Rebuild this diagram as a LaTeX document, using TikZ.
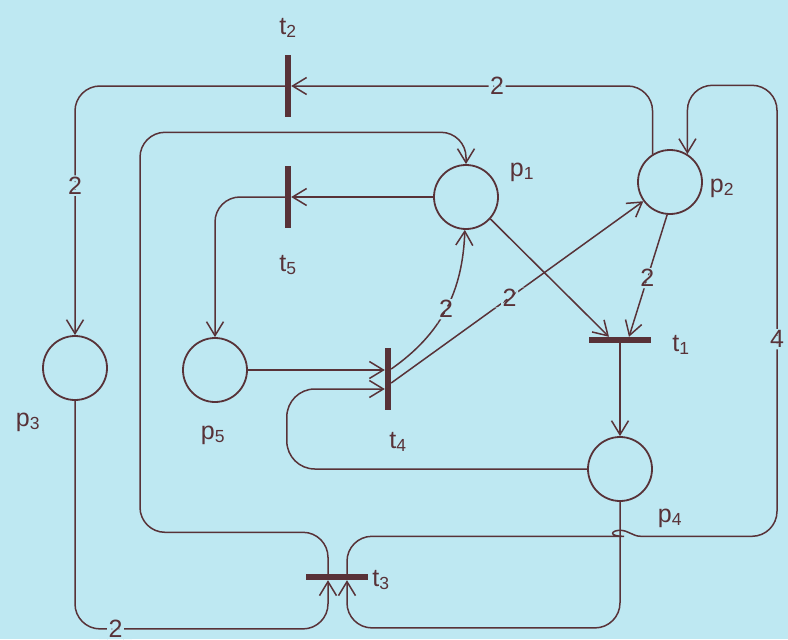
\documentclass[tikz,border=0pt]{standalone}
\usepackage{fontspec}
\setmainfont{Liberation Sans}
\usetikzlibrary{arrows.meta, calc, positioning}
\definecolor{bgblue}{RGB}{190,232,242}
\definecolor{ink}{RGB}{88,50,56}

\begin{document}
\begin{tikzpicture}[x=1pt, y=-1pt,
  place/.style={draw=ink, line width=1.8pt, circle, minimum size=64pt, inner sep=0pt},
  vbar/.style={fill=ink, minimum width=6pt, minimum height=62pt, inner sep=0pt},
  hbar/.style={fill=ink, minimum width=62pt, minimum height=6pt, inner sep=0pt},
  flow/.style={draw=ink, line width=1.5pt, rounded corners=25pt,
    -{Straight Barb[length=14pt, width=17pt]}},
  wt/.style={fill=bgblue, inner sep=1.5pt, text=ink, font=\fontsize{25}{30}\selectfont},
  lbl/.style={text=ink, font=\fontsize{25}{30}\selectfont}]

  % background
  \fill[bgblue] (0,0) rectangle (788,639);

  % places
  \node[place] (p1) at (466,197) {};
  \node[place] (p2) at (670,182) {};
  \node[place] (p3) at (75,368) {};
  \node[place] (p4) at (620,469) {};
  \node[place] (p5) at (215,370) {};

  % transitions
  \node[vbar] (t2) at (288,86) {};
  \node[vbar] (t5) at (288,197) {};
  \node[vbar] (t4) at (388,379) {};
  \node[hbar] (t1) at (620,340) {};
  \node[hbar] (t3) at (337,577) {};

  % names
  \node[lbl] (lp1) at (522,172) {p\textsubscript{1}};
  \node[lbl] (lp2) at (722,188) {p\textsubscript{2}};
  \node[lbl] (lp3) at (28,422) {p\textsubscript{3}};
  \node[lbl] (lp4) at (670,518) {p\textsubscript{4}};
  \node[lbl] (lp5) at (213,435) {p\textsubscript{5}};
  \node[lbl] (lt1) at (681,345) {t\textsubscript{1}};
  \node[lbl] (lt2) at (288,28) {t\textsubscript{2}};
  \node[lbl] (lt3) at (381,580) {t\textsubscript{3}};
  \node[lbl] (lt4) at (398,442) {t\textsubscript{4}};
  \node[lbl] (lt5) at (288,265) {t\textsubscript{5}};

  % t2
  \draw[flow] (p2.122) |- node[wt, pos=0.715] {2} (t2);
  \draw[flow] (t2) -| node[wt, pos=0.7] {2} (p3);

  % t5
  \draw[flow] (p1) -- (t5);
  \draw[flow] (t5) -| (p5);

  % t4
  \draw[flow] (p5) -- (p5 -| t4.west);
  \draw[flow, rounded corners=28pt] (p4) -| ([xshift=-98pt, yshift=-10pt]t4.west)
    -- ([yshift=-10pt]t4.west);
  \draw[flow] ([yshift=10pt]t4.east) to[out=35, in=-92] node[wt, pos=0.5] {2} (p1);
  \draw[flow] ([yshift=-4pt]t4.east) -- node[wt, pos=0.47] {2} (p2);

  % t1
  \draw[flow] (p1.-42) -- ([xshift=-11pt]t1.north);
  \draw[flow] (p2.-95) -- node[wt, pos=0.52] {2} ([xshift=9pt]t1.north);
  \draw[flow] (t1) -- (p4);

  % t3
  \draw[flow] (p3.south) -- ++(0,228) -| node[wt, pos=0.08] {2} ([xshift=-9pt]t3.south);
  \draw[flow] (p4.south) -- ++(0,126) -| ([xshift=10pt]t3.south);
  \draw[flow] ([xshift=-9pt]t3.north) -- ++(0,-41.5) -- ++(-188,0) -- ++(0,-400) -| (p1);
  \draw[flow] ([xshift=10pt]t3.north) -- ++(0,-37.5) -- ++(252,0)
    [sharp corners] to[out=0, in=180] ++(21,-6) to[out=0, in=180] ++(21,6)
    [rounded corners=25pt] -- ++(136,0) -- node[wt, pos=0.437] {4} ++(0,-451) -| (p2.58);
\end{tikzpicture}
\end{document}
